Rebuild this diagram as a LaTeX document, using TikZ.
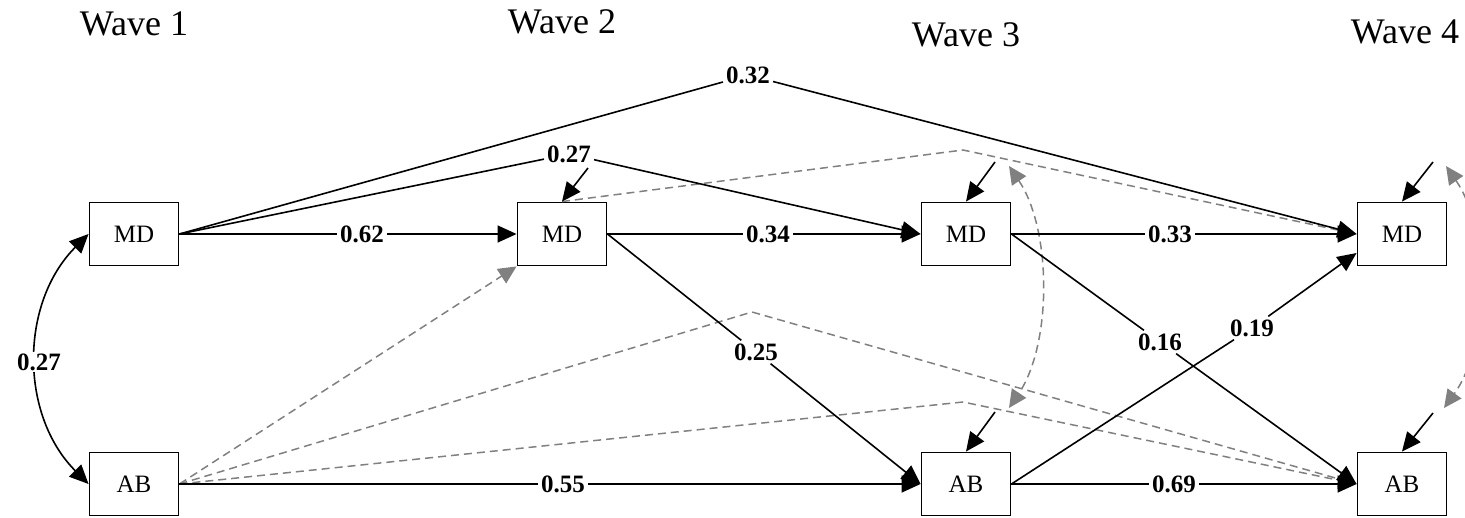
\documentclass[tikz,border=0pt]{standalone}
\usepackage{fontspec}
\setmainfont{Liberation Serif}
\usetikzlibrary{arrows.meta}
\begin{document}
\begin{tikzpicture}[x=1pt,y=-1pt,
  box/.style={draw,line width=1.9pt,minimum width=89pt,minimum height=63pt,inner sep=0pt,font=\fontsize{25}{30}\selectfont},
  wave/.style={font=\fontsize{36}{42}\selectfont,inner sep=0pt},
  lab/.style={font=\fontsize{25}{30}\selectfont\bfseries,inner sep=3pt},
  arr/.style={line width=1.6pt,-{Triangle[length=19pt,width=17pt]}},
  dbl/.style={line width=1.6pt,{Triangle[length=19pt,width=17pt]}-{Triangle[length=19pt,width=17pt]}},
  cov/.style={gray,line width=1.5pt,dash pattern=on 8pt off 5pt,-{Triangle[length=18pt,width=17pt]}},
  covb/.style={gray,line width=1.5pt,dash pattern=on 8pt off 5pt,{Triangle[length=18pt,width=17pt]}-{Triangle[length=18pt,width=17pt]}}]
\useasboundingbox (0,0) rectangle (1465,517);

% wave titles
\node[wave] (t1) at (134,24) {Wave 1};
\node[wave] (t2) at (562,22) {Wave 2};
\node[wave] (t3) at (966,35) {Wave 3};
\node[wave] (t4) at (1405,32) {Wave 4};

% variables
\node[box] (md1) at (134,234) {MD};
\node[box] (ab1) at (134,484) {AB};
\node[box] (md2) at (562,234) {MD};
\node[box] (md3) at (966,234) {MD};
\node[box] (ab3) at (966,484) {AB};
\node[box] (md4) at (1402,234) {MD};
\node[box] (ab4) at (1402,484) {AB};

% coefficient labels
\node[lab] (l062) at (362,234) {0.62};
\node[lab] (l027b) at (569,154) {0.27};
\node[lab] (l032) at (748,75) {0.32};
\node[lab] (l034) at (768,234) {0.34};
\node[lab] (l025) at (756,352) {0.25};
\node[lab] (l033) at (1170,234) {0.33};
\node[lab] (l016) at (1160,342) {0.16};
\node[lab] (l019) at (1252,328) {0.19};
\node[lab] (l055) at (563,484) {0.55};
\node[lab] (l069) at (1174,484) {0.69};

% waypoints and residual points
\coordinate (w1) at (752,312);
\coordinate (w2) at (963,402);
\coordinate (w3) at (963,150);
\coordinate (e2) at (588,168);
\coordinate (e3) at (995,162);
\coordinate (e4) at (1433,162);
\coordinate (f3) at (995,412);
\coordinate (f4) at (1433,413);
\coordinate (c3t) at (1009,166);
\coordinate (c3b) at (1009,408);
\coordinate (c4t) at (1446,166);
\coordinate (c4b) at (1444,408);

% non-significant paths (dashed grey)
\draw[cov] (ab1.east) -- (md2.south west);
\draw[cov] (ab1.east) -- (w1) -- (ab4.west);
\draw[cov] (ab1.east) -- (w2) -- (ab4.west);
\draw[cov] (md2.north) -- (w3) -- (md4.west);
\draw[covb] (c3t) .. controls (1052,230) and (1052,344) .. (c3b);
\draw[covb] (c4t) .. controls (1490,230) and (1490,344) .. (c4b);

% significant paths
\draw[arr] (md1.east) -- (l062) -- (md2.west);
\draw[arr] (md1.east) -- (l027b) -- (md3.west);
\draw[arr] (md1.east) -- (l032) -- (md4.west);
\draw[arr] (md2.east) -- (l034) -- (md3.west);
\draw[arr] (md2.east) -- (l025) -- (ab3.west);
\draw[arr] (md3.east) -- (l033) -- (md4.west);
\draw[arr] (md3.east) -- (l016) -- (ab4.west);
\draw[arr] (ab3.east) -- (l019) -- ([yshift=-19pt]md4.west);
\draw[arr] (ab1.east) -- (l055) -- (ab3.west);
\draw[arr] (ab3.east) -- (l069) -- (ab4.west);

% residuals
\draw[arr] (e2) -- (md2.north);
\draw[arr] (e3) -- (md3.north);
\draw[arr] (e4) -- (md4.north);
\draw[arr] (f3) -- (ab3.north);
\draw[arr] (f4) -- (ab4.north);

% wave 1 correlation
\draw[dbl] (md1.west) .. controls +(-69,69) and +(-69,-69) .. (ab1.west);
\node[lab,fill=white,inner sep=2pt] (l027a) at (39,362) {0.27};
\end{tikzpicture}
\end{document}
